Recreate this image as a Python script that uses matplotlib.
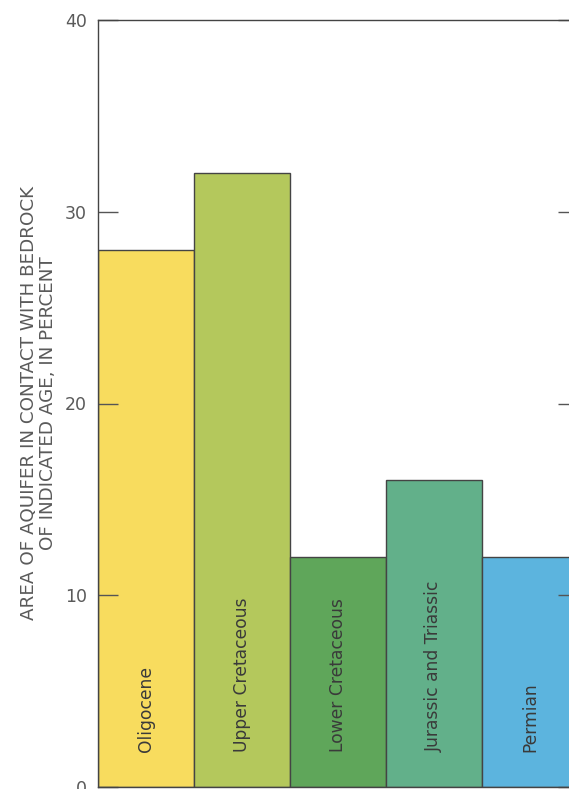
import matplotlib
matplotlib.use("Agg")
import matplotlib.pyplot as plt

ages = ["Oligocene", "Upper Cretaceous", "Lower Cretaceous", "Jurassic and Triassic", "Permian"]
percent = [28, 32, 12, 16, 12]
colors = ["#f8dc5e", "#b4c85c", "#5fa65a", "#62b08a", "#5cb4de"]
yticks = [0, 10, 20, 30, 40]

plt.rcParams['font.family'] = ['DejaVu Sans']

fig = plt.figure(figsize=(5.69, 7.89), dpi=100)
# axes run a little past the right edge, like the cropped scan
ax = fig.add_axes([98 / 569, 2 / 789, 480 / 569, 767 / 789])

x = list(range(len(ages)))
ax.bar(x, percent, width=1.0, align='edge', color=colors, edgecolor='#444444', linewidth=1.0)

for i, name in enumerate(ages):
    ax.text(i + 0.5, 1.85, name, rotation=90, ha='center', va='bottom',
            fontsize=12.3, color='#3a3a3a')

ax.set_xlim(0, len(ages))
ax.set_ylim(0, 40)
ax.set_yticks(yticks)
ax.set_xticks([])
ax.tick_params(axis='y', direction='in', length=14.5, width=1.0, color='#555555',
               labelsize=12.5, labelcolor='#5a5a5a', pad=8, right=True)
for s in ax.spines.values():
    s.set_color('#444444')
    s.set_linewidth(1.0)

ax.set_ylabel("AREA OF AQUIFER IN CONTACT WITH BEDROCK\nOF INDICATED AGE, IN PERCENT",
              fontsize=13.2, color='#5a5a5a', labelpad=6, linespacing=1.05)

fig.savefig("out.png", dpi=100)
